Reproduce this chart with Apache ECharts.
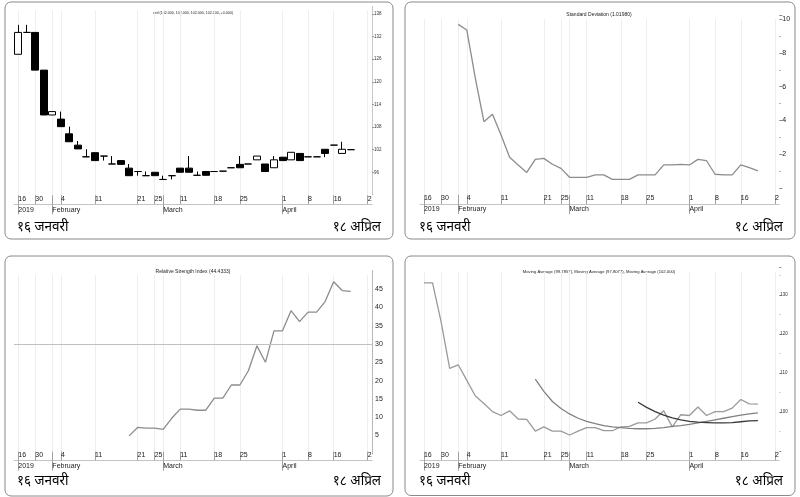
<!DOCTYPE html>
<html><head><meta charset="utf-8">
<script src="https://cdn.jsdelivr.net/npm/echarts@6/dist/echarts.min.js"></script>
<style>html,body{margin:0;padding:0;background:#fff}#c{width:800px;height:497px}</style>
</head><body><div id="c"></div>
<script>
// ---- data ----
const slotCount = 42;
const dayTickIndex = [0,2,5,9,14,16,19,23,26,31,34,37,41];
const dayTickText  = ['16','30','4','11','21','25','11','18','25','1','8','16','2'];
const monthTickIndex = [0,4,17,31];
const monthTickText  = ['2019','February','March','April'];

const candleOpen  = [127.3,133.1,133.1,123.1,111.2,110.1,106.2,103.2,100.1,101.2,100.3,98.2,99.1,97.1,96.2,95.1,96.0,94.1,95.1,97.1,97.1,95.2,96.2,96.2,96.3,97.2,98.1,98.2,99.3,98.2,97.2,100.0,99.3,101.0,100.1,100.1,102.1,103.2,101.0,102.0];
const candleClose = [133.1,133.1,123.1,111.2,112.1,108.1,104.1,102.2,100.1,99.1,100.3,98.2,98.1,95.1,96.2,95.1,95.1,94.1,95.1,96.0,96.0,95.2,95.2,96.2,96.3,97.2,97.2,98.2,100.3,96.2,99.3,99.1,101.3,99.1,100.1,100.1,101.0,103.2,102.1,102.0];
const candleLow   = [127.3,133.1,123.1,111.2,111.2,108.1,104.1,102.2,100.1,99.1,99.1,98.2,98.1,95.1,95.1,95.1,95.1,94.1,94.1,96.0,96.0,95.2,95.2,96.2,96.3,97.2,97.2,98.2,99.3,96.2,97.2,99.1,99.3,99.1,100.1,100.1,100.0,103.2,101.0,102.0];
const candleHigh  = [135.1,135.1,133.1,123.1,112.1,112.1,108.1,104.3,102.1,101.2,100.3,100.3,99.1,98.2,96.2,96.2,96.0,95.1,95.1,97.1,100.3,96.2,96.2,96.2,96.3,97.2,100.3,98.2,100.3,98.2,100.3,100.0,101.3,101.0,100.1,100.1,102.1,103.2,104.1,102.0];

const stdDev = [null,null,null,null,9.69,9.36,6.50,3.93,4.37,3.14,1.82,1.37,0.93,1.70,1.76,1.41,1.17,0.64,0.64,0.64,0.78,0.78,0.52,0.52,0.52,0.78,0.78,0.78,1.37,1.37,1.41,1.37,1.70,1.62,0.82,0.78,0.78,1.37,1.21,1.02];
const rsi = [null,null,null,null,null,null,null,null,null,null,null,null,null,4.9,7.2,7.0,7.0,6.7,9.7,12.2,12.2,11.9,11.9,15.2,15.2,18.8,18.8,22.7,29.5,25.0,33.6,33.6,39.1,36.1,38.7,38.7,41.6,47.0,44.6,44.4];
const ma14 = [null,null,null,null,null,null,null,null,null,null,null,null,null,108.4,105.3,102.7,100.9,99.5,98.4,97.6,97.0,96.5,96.2,96.0,95.8,95.7,95.7,95.8,96.0,96.3,96.5,96.8,97.2,97.6,98.0,98.4,98.8,99.2,99.5,99.8];
const ma26 = [null,null,null,null,null,null,null,null,null,null,null,null,null,null,null,null,null,null,null,null,null,null,null,null,null,102.5,101.2,100.1,99.2,98.5,98.0,97.6,97.4,97.3,97.2,97.2,97.3,97.5,97.7,97.8];

const titleTexts = [
  'ceil (102.000, 102.000, 102.000, 102.000, +0.000)',
  'Standard Deviation (1.01980)',
  'Relative Strength Index (44.4333)',
  'Moving Average (99.7857), Moving Average (97.8077), Moving Average (102.000)'
];
const startLabel = '१६ जनवरी';
const endLabel = '१८ अप्रिल';

// ---- chart ----
const cats = [];
for (let i = 0; i < slotCount; i++) cats.push('s' + i);
const FONT = '"Liberation Sans", Arial, sans-serif';
const DEV = '"Noto Sans Devanagari","Lohit Devanagari","Noto Sans",sans-serif';

const panels = [
  {left:14, width:358, top:6.4, height:188.5, xOff:9.4},
  {left:419.7, width:359.6, top:14.9, height:173.2, xOff:15.9},
  {left:14, width:358, top:270.8, height:183, xOff:6.9},
  {left:419.7, width:359.6, top:267.7, height:183.3, xOff:9.7}
];
const tickFn = (i) => dayTickIndex.includes(i) || monthTickIndex.includes(i);
const dayFn = (i) => dayTickIndex.includes(i);
const monFn = (i) => monthTickIndex.includes(i);

const grids = [], xAxes = [];
panels.forEach((p, g) => {
  grids.push({left:p.left, width:p.width, top:p.top, height:p.height});
  xAxes.push({type:'category', data:cats, gridIndex:g, position:'bottom', offset:p.xOff, boundaryGap:true,
    axisLine:{show:true, onZero:false, lineStyle:{color:'#c4c4c4', width:1}},
    axisTick:{show:true, inside:true, alignWithLabel:true, interval:tickFn, length:p.height + p.xOff - 4, lineStyle:{color:'#eeeeee'}},
    axisLabel:{show:false}, splitLine:{show:false}});
  xAxes.push({type:'category', data:cats, gridIndex:g, position:'bottom', offset:p.xOff, boundaryGap:true,
    axisLine:{show:false, onZero:false},
    axisTick:{show:true, inside:true, alignWithLabel:true, interval:tickFn, length:9, lineStyle:{color:'#a0a0a0'}},
    axisLabel:{show:true, inside:true, interval:dayFn, align:'left', margin:2, fontSize:7, fontFamily:FONT, color:'#222',
      formatter:(v, i) => { const k = dayTickIndex.indexOf(i); return k >= 0 ? dayTickText[k] : ''; }},
    splitLine:{show:false}});
  xAxes.push({type:'category', data:cats, gridIndex:g, position:'bottom', offset:p.xOff, boundaryGap:true,
    axisLine:{show:false, onZero:false},
    axisTick:{show:true, inside:false, alignWithLabel:true, interval:monFn, length:10, lineStyle:{color:'#a0a0a0'}},
    axisLabel:{show:true, interval:monFn, align:'left', margin:2, fontSize:7, fontFamily:FONT, color:'#222',
      formatter:(v, i) => { const k = monthTickIndex.indexOf(i); return k >= 0 ? monthTickText[k] : ''; }},
    splitLine:{show:false}});
});

const yAxes = [
  {type:'value', gridIndex:0, position:'right', min:90, max:140, interval:6,
   axisLine:{show:true, lineStyle:{color:'#c8c8c8'}}, axisTick:{show:true, length:2, lineStyle:{color:'#999'}},
   axisLabel:{fontSize:4.5, margin:2, color:'#333', fontFamily:FONT, showMinLabel:false, showMaxLabel:false},
   splitLine:{show:false}},
  {type:'value', gridIndex:1, position:'right', min:0, max:10.25, interval:2,
   axisLine:{show:false}, axisTick:{show:true, length:3, lineStyle:{color:'#888'}},
   minorTick:{show:true, splitNumber:2, length:1.5, lineStyle:{color:'#999'}},
   axisLabel:{fontSize:7, margin:3, color:'#222', fontFamily:FONT, showMinLabel:false, showMaxLabel:false},
   splitLine:{show:false}},
  {type:'value', gridIndex:2, position:'right', min:0, max:50, interval:5,
   axisLine:{show:true, lineStyle:{color:'#aaa', type:'dotted'}}, axisTick:{show:false},
   axisLabel:{fontSize:7, margin:3, color:'#222', fontFamily:FONT, showMinLabel:false, showMaxLabel:false},
   splitLine:{show:false}},
  {type:'value', gridIndex:3, position:'right', min:90, max:137, interval:10,
   axisLine:{show:false}, axisTick:{show:true, length:2, lineStyle:{color:'#888'}},
   minorTick:{show:true, splitNumber:2, length:1, lineStyle:{color:'#aaa'}},
   axisLabel:{fontSize:4.5, margin:1, color:'#333', fontFamily:FONT, showMinLabel:false, showMaxLabel:false},
   splitLine:{show:false}}
];

const ohlc = candleOpen.map((o, i) => [o, candleClose[i], candleLow[i], candleHigh[i]]);

const graphics = [];
const frames = [[5,2,388,237],[405,2,390,237],[5,256,388,240],[405,256,390,239.5]];
frames.forEach(f => graphics.push({type:'rect', silent:true, z:-10,
  shape:{x:f[0], y:f[1], width:f[2], height:f[3], r:6}, style:{fill:'none', stroke:'#8a8a8a', lineWidth:1}}));
const titlePos = [[193,13.3,3.6],[599,15,5],[193,271.7,5],[599,271.7,4.2]];
titlePos.forEach((t, k) => graphics.push({type:'text', silent:true, x:t[0], y:t[1],
  style:{text:titleTexts[k], fontSize:t[2], fontFamily:FONT, fill:'#222', align:'center', verticalAlign:'middle'}}));
const bigPos = [[17,381,228],[419,783,228],[17,381,482.3],[419,783,482.3]];
bigPos.forEach(b => {
  graphics.push({type:'text', silent:true, x:b[0], y:b[2], style:{text:startLabel, fontSize:13.5, fontFamily:DEV, fill:'#000', align:'left', verticalAlign:'middle'}});
  graphics.push({type:'text', silent:true, x:b[1], y:b[2], style:{text:endLabel, fontSize:13.5, fontFamily:DEV, fill:'#000', align:'right', verticalAlign:'middle'}});
});

const option = {
  animation:false,
  backgroundColor:'#fff',
  grid:grids, xAxis:xAxes, yAxis:yAxes,
  graphic:graphics,
  series:[
    {type:'candlestick', xAxisIndex:0, yAxisIndex:0, data:ohlc, barWidth:7.5,
     itemStyle:{color:'#ffffff', color0:'#000000', borderColor:'#000000', borderColor0:'#000000', borderWidth:1}},
    {type:'line', xAxisIndex:3, yAxisIndex:1, data:stdDev, symbol:'none', lineStyle:{color:'#8c8c8c', width:1.3}},
    {type:'line', xAxisIndex:6, yAxisIndex:2, data:rsi, symbol:'none', lineStyle:{color:'#8c8c8c', width:1.3},
     markLine:{silent:true, symbol:'none', label:{show:false}, lineStyle:{color:'#c0c0c0', type:'solid', width:1}, data:[{yAxis:30}]}},
    {type:'line', xAxisIndex:9, yAxisIndex:3, data:candleClose, symbol:'none', lineStyle:{color:'#9a9a9a', width:1.3}},
    {type:'line', xAxisIndex:9, yAxisIndex:3, data:ma14, symbol:'none', lineStyle:{color:'#808080', width:1.3}},
    {type:'line', xAxisIndex:9, yAxisIndex:3, data:ma26, symbol:'none', lineStyle:{color:'#3a3a3a', width:1.3}}
  ]
};
const chart = echarts.init(document.getElementById('c'), null, {renderer:'canvas'});
chart.setOption(option);
</script>
</body></html>
